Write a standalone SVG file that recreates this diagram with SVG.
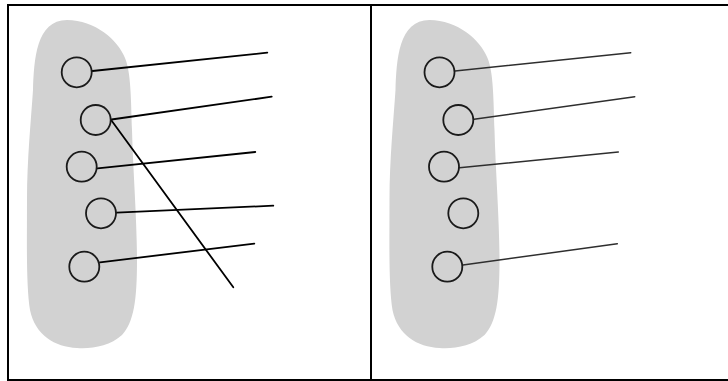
<svg xmlns="http://www.w3.org/2000/svg" width="728" height="381" viewBox="0 0 728 381">
<style>
.blob{fill:#d2d2d2;stroke:none}
.node circle{fill:none;stroke:#1a1a1a;stroke-width:1.8}
.frame{stroke:#000;stroke-width:2;fill:none}
#connectors-left line{stroke:#000;stroke-width:1.8;stroke-linecap:round}
#connectors-right line{stroke:#2e2e2e;stroke-width:1.5;stroke-linecap:round}
</style>
<rect width="728" height="381" fill="#fff"/>
<g id="frame">
<line class="frame" x1="8" y1="5" x2="728" y2="5"/>
<line class="frame" x1="8" y1="380" x2="728" y2="380"/>
<line class="frame" x1="8" y1="4" x2="8" y2="381"/>
<line class="frame" x1="371" y1="5" x2="371" y2="381"/>
</g>
<path id="blob-left" class="blob" d="M 67,20 C 95,20 118,40 125,58 C 131,72 131,100 132,130 C 133,170 137,220 137,260 C 137,300 134,322 122,335 C 110,346 92,349 77,348 C 55,347 35,335 30,310 C 26,285 27,240 27,200 C 27,160 31,120 33,90 C 34,60 36,20 67,20 Z"/>
<path id="blob-right" class="blob" transform="translate(362.5,0)" d="M 67,20 C 95,20 118,40 125,58 C 131,72 131,100 132,130 C 133,170 137,220 137,260 C 137,300 134,322 122,335 C 110,346 92,349 77,348 C 55,347 35,335 30,310 C 26,285 27,240 27,200 C 27,160 31,120 33,90 C 34,60 36,20 67,20 Z"/>
<g id="connectors-left">
<line x1="92.5" y1="71" x2="267.3" y2="52.7"/>
<line x1="111.5" y1="119.5" x2="271.7" y2="96.7"/>
<line x1="111.5" y1="120.5" x2="233.3" y2="287.3"/>
<line x1="97.5" y1="168.3" x2="255.3" y2="152"/>
<line x1="116.5" y1="212.7" x2="273.3" y2="205.7"/>
<line x1="100" y1="262.3" x2="254.3" y2="243.7"/>
</g>
<g id="connectors-right">
<line x1="455" y1="71" x2="630.7" y2="52.7"/>
<line x1="474" y1="119.3" x2="634.7" y2="96.7"/>
<line x1="459.5" y1="167.7" x2="618.3" y2="152"/>
<line x1="463" y1="265" x2="617.3" y2="243.7"/>
</g>
<g id="left-n1" class="node"><circle cx="76.7" cy="72.3" r="15"/></g>
<g id="left-n2" class="node"><circle cx="95.7" cy="120" r="15"/></g>
<g id="left-n3" class="node"><circle cx="81.7" cy="166.7" r="15"/></g>
<g id="left-n4" class="node"><circle cx="101" cy="213.3" r="15"/></g>
<g id="left-n5" class="node"><circle cx="84.3" cy="266.7" r="15"/></g>
<g id="right-n1" class="node"><circle cx="439.5" cy="72.3" r="15"/></g>
<g id="right-n2" class="node"><circle cx="458.3" cy="120" r="15"/></g>
<g id="right-n3" class="node"><circle cx="444" cy="166.7" r="15"/></g>
<g id="right-n4" class="node"><circle cx="463.3" cy="213.3" r="15"/></g>
<g id="right-n5" class="node"><circle cx="447.3" cy="266.7" r="15"/></g>
</svg>
